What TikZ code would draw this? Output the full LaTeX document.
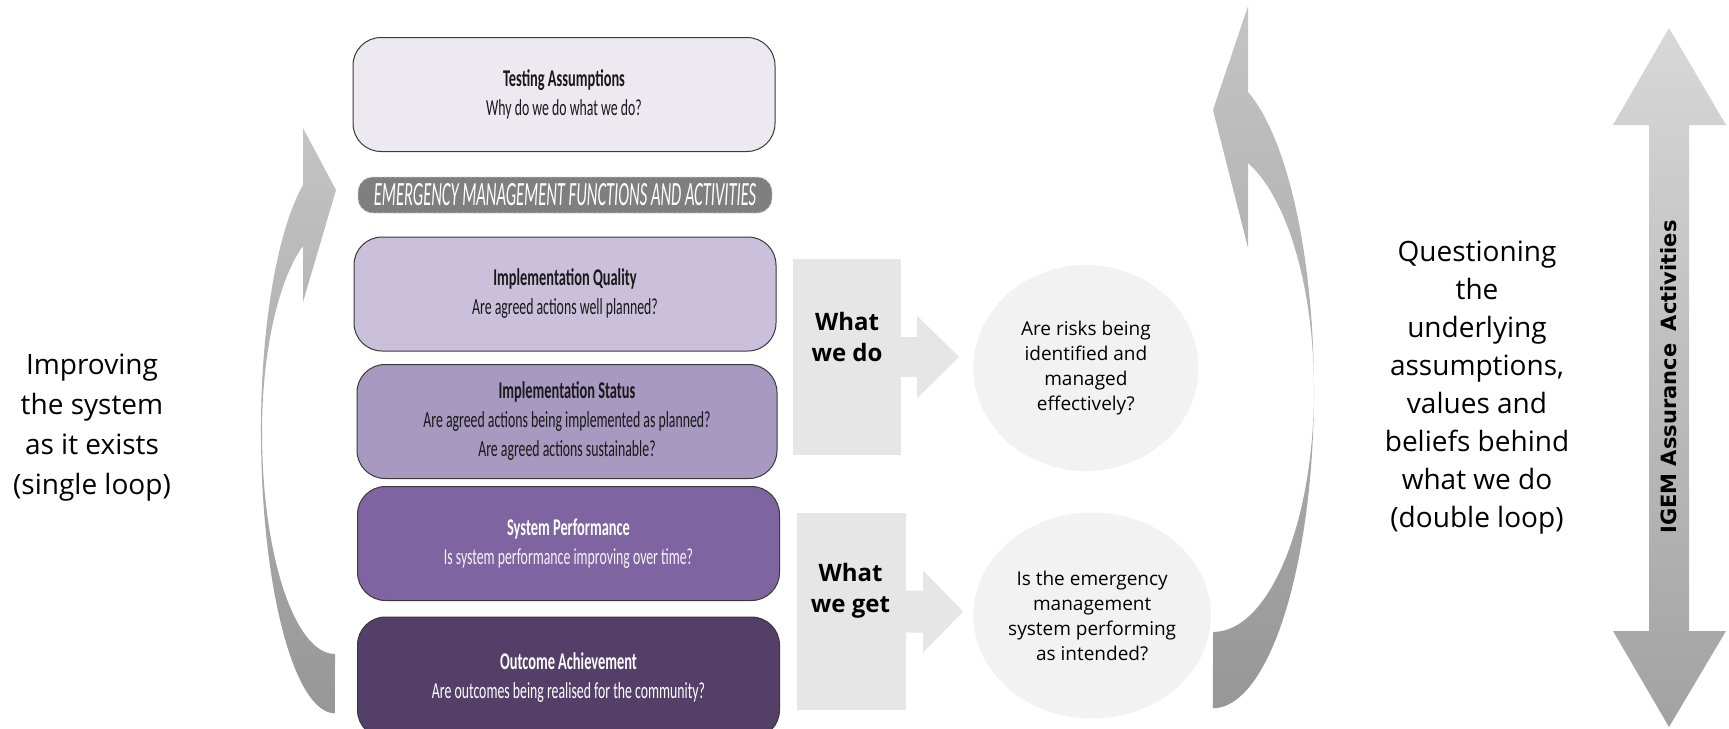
\documentclass[tikz,border=0pt]{standalone}
\usepackage{fontspec}
\setmainfont{Open Sans}
\newfontfamily\boxfont[FakeStretch=0.60]{Carlito}
\newfontfamily\bandfont[FakeStretch=0.485]{Carlito}
\newfontfamily\igemfont{DejaVu Sans}
\usetikzlibrary{positioning,calc,shapes.geometric}
\definecolor{lvlA}{HTML}{ECE9F1}
\definecolor{lvlB}{HTML}{CBC0DB}
\definecolor{lvlC}{HTML}{A899C0}
\definecolor{lvlD}{HTML}{7E64A0}
\definecolor{lvlE}{HTML}{543F69}
\definecolor{lvledge}{HTML}{3A3A3A}
\definecolor{bandgray}{HTML}{7F7F7F}
\definecolor{boxgray}{HTML}{E6E6E6}
\definecolor{bubgray}{HTML}{F2F2F2}
\definecolor{crvTop}{HTML}{C4C4C4}
\definecolor{crvBot}{HTML}{979797}
\definecolor{dblTop}{HTML}{D8D8D8}
\definecolor{dblBot}{HTML}{A2A2A2}
\newcommand{\lvltitle}[1]{{\fontsize{24}{29}\selectfont\bfseries #1}}
\tikzstyle{lvl}=[draw=lvledge, line width=1pt, rounded corners=28pt, minimum width=422pt, minimum height=114pt, inner sep=0pt, align=center, text=black!90, font=\boxfont\fontsize{23}{29}\selectfont]
\tikzstyle{band}=[fill=bandgray, draw=gray!35, dash pattern=on 3pt off 2pt, line width=0.8pt, rounded corners=15pt, minimum width=414pt, minimum height=36pt, inner sep=0pt, text=white, font=\bandfont\fontsize{34}{34}\selectfont]
\tikzstyle{gbox}=[fill=boxgray, minimum width=108pt, minimum height=196pt, inner sep=0pt]
\tikzstyle{wlab}=[align=center, font=\bfseries\fontsize{24}{31}\selectfont]
\tikzstyle{bub}=[ellipse, fill=bubgray, minimum width=225pt, minimum height=206pt, inner sep=0pt, align=center, font=\fontsize{19}{25}\selectfont]
\tikzstyle{side}=[align=center, font=\fontsize{28}{38}\selectfont]
\begin{document}
\begin{tikzpicture}[x=1pt,y=-1pt]
   \useasboundingbox (0,0) rectangle (1729,728);
   \clip (0,0) rectangle (1729,728);
   % level boxes
   \node[lvl,fill=lvlA] (L1) at (564,94.5) {\lvltitle{Testing Assumptions}\\Why do we do what we do?};
   \node[band] (B0) at (565,195) {\itshape EMERGENCY MANAGEMENT FUNCTIONS AND ACTIVITIES};
   \node[lvl,fill=lvlB] (L2) at (565,294) {\lvltitle{Implementation Quality}\\Are agreed actions well planned?};
   \node[lvl,fill=lvlC,minimum width=420pt] (L3) at (567,421.5) {\lvltitle{Implementation Status}\\Are agreed actions being implemented as planned?\\Are agreed actions sustainable?};
   \node[lvl,fill=lvlD,text=white] (L4) at (568.5,543.5) {\lvltitle{System Performance}\\\color{white!92!lvlD}Is system performance improving over time?};
   \node[lvl,fill=lvlE,text=white,minimum height=121pt] (L5) at (568.5,677.5) {\lvltitle{Outcome Achievement}\\Are outcomes being realised for the community?};
   % what we do / what we get
   \node[gbox] (W1) at (847,357) {};
   \node[gbox,minimum width=109pt,minimum height=197pt] (W2) at (851.5,611.5) {};
   \node[wlab] (T1) at ($(W1.center)+(0,-20)$) {What\\we do};
   \node[wlab] (T2) at ($(W2.center)+(-1,-21)$) {What\\we get};
   \node[bub] (C1) [right=72pt of W1,yshift=-11pt] {Are risks being\\identified and\\managed\\effectively?};
   \node[bub] (C2) [right=67pt of W2,yshift=-4pt] {Is the emergency\\management\\system performing\\as intended?};
   \fill[boxgray] ($(W1.east)+(0,-20)$) -- ++(16,0) -- ++(0,-21) -- ($(W1.east)+(58,0)$)
      -- ($(W1.east)+(16,41)$) -- ++(0,-21) -- ($(W1.east)+(0,20)$) -- cycle;
   \fill[boxgray] ($(W2.east)+(0,-21)$) -- ++(17,0) -- ++(0,-20) -- ($(W2.east)+(57,0)$)
      -- ($(W2.east)+(17,41)$) -- ++(0,-20) -- ($(W2.east)+(0,21)$) -- cycle;
   % side texts
   \node[side,font=\fontsize{28}{40}\selectfont] (S1) at (92,427.5) {Improving\\the system\\as it exists\\(single loop)};
   \node[side] (S2) at (1477,388) {Questioning\\the\\underlying\\assumptions,\\values and\\beliefs behind\\what we do\\(double loop)};
   % single loop arrow
   \shade[top color=crvTop,bottom color=crvBot]
      (336,190) -- (303,128) -- (303,185)
      arc[start angle=244.4,end angle=180,x radius=74,y radius=272]
      arc[start angle=180,end angle=90,x radius=74,y radius=283]
      -- (335,654)
      arc[start angle=90,end angle=180,x radius=73,y radius=222]
      arc[start angle=180,end angle=244,x radius=73,y radius=207]
      -- (303,302) -- cycle;
   % double loop arrow
   \shade[top color=crvTop,bottom color=crvBot]
      (1248,6) -- (1248,92)
      arc[start angle=-69.7,end angle=90,x radius=101,y radius=318]
      -- (1213,632)
      arc[start angle=90,end angle=-69.7,x radius=101,y radius=242]
      -- (1248,248) -- (1213,110) -- cycle;
   % assurance arrow
   \shade[top color=dblTop,bottom color=dblBot]
      (1669,28) -- (1726,125) -- (1689,125) -- (1689,631) -- (1726,631) -- (1669,727)
      -- (1613,631) -- (1649,631) -- (1649,125) -- (1613,125) -- cycle;
   \node[rotate=90,font=\igemfont\bfseries\fontsize{21}{21}\selectfont] (IG) at (1669,377) {IGEM Assurance\hspace{0.25em} Activities};
\end{tikzpicture}
\end{document}
